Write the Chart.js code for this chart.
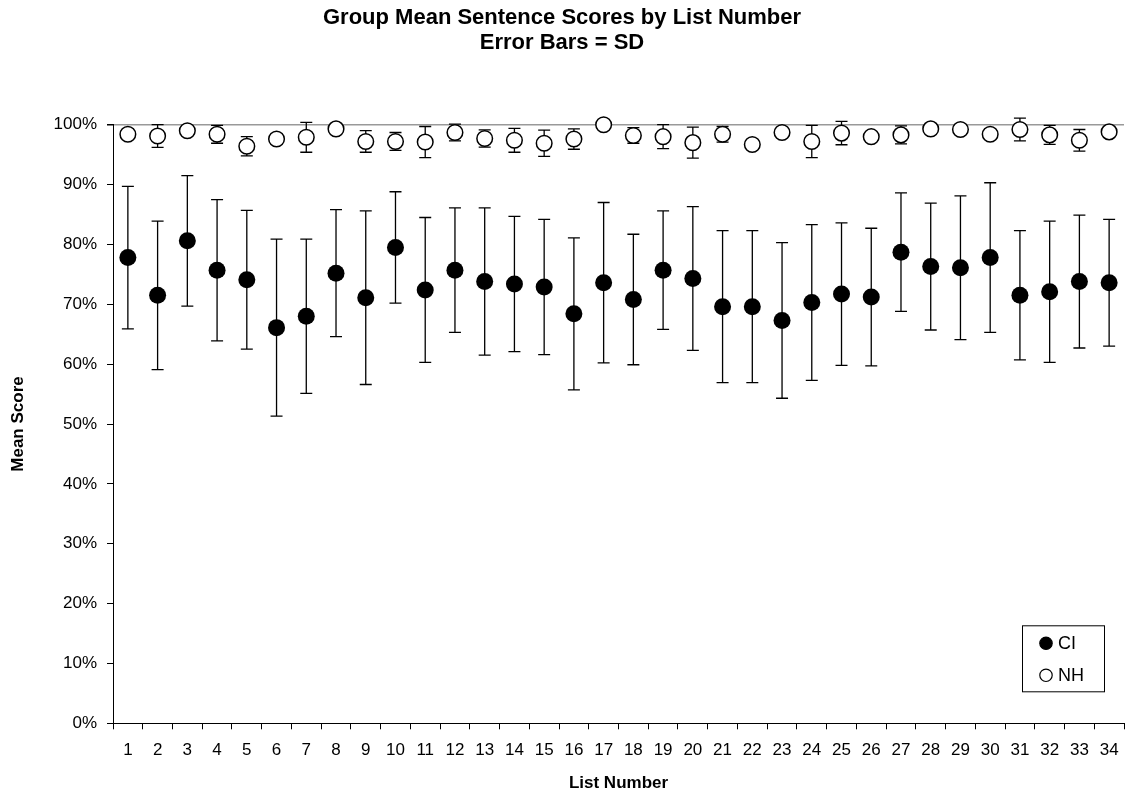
<!DOCTYPE html>
<html>
<head>
<meta charset="utf-8">
<title>Group Mean Sentence Scores by List Number</title>
<script src="https://cdn.jsdelivr.net/npm/chart.js@4.4.0/dist/chart.umd.min.js"></script>
<style>
  html, body { margin: 0; padding: 0; background: #fff; overflow: hidden; }
  #wrap { width: 1125px; height: 794px; }
  #scoreChart { display: block; }
</style>
</head>
<body>
<div id="wrap"><canvas id="scoreChart" width="1125" height="794"></canvas></div>
<script>
// list numbers on the x axis
const listNumbers = ['1','2','3','4','5','6','7','8','9','10','11','12','13','14','15','16','17',
                     '18','19','20','21','22','23','24','25','26','27','28','29','30','31','32','33','34'];

// CI group: mean score (%) and SD (%)
const ciMean = [77.8, 71.5, 80.6, 75.7, 74.1, 66.1, 68.0, 75.2, 71.1, 79.5, 72.4, 75.7, 73.8, 73.4, 72.9, 68.4, 73.6,
                70.8, 75.7, 74.3, 69.6, 69.6, 67.3, 70.3, 71.7, 71.2, 78.7, 76.3, 76.1, 77.8, 71.5, 72.1, 73.8, 73.6];
const ciSD   = [11.9, 12.4, 10.9, 11.8, 11.6, 14.8, 12.9, 10.6, 14.5, 9.3, 12.1, 10.4, 12.3, 11.3, 11.3, 12.7, 13.4,
                10.9, 9.9, 12.0, 12.7, 12.7, 13.0, 13.0, 11.9, 11.5, 9.9, 10.6, 12.0, 12.5, 10.8, 11.8, 11.1, 10.6];

// NH group: mean score (%) and SD (%)
const nhMean = [98.4, 98.1, 99.0, 98.4, 96.4, 97.6, 97.9, 99.3, 97.2, 97.2, 97.1, 98.7, 97.7, 97.4, 96.9, 97.6, 100.0,
                98.2, 98.0, 97.0, 98.4, 96.7, 98.7, 97.2, 98.6, 98.0, 98.3, 99.3, 99.2, 98.4, 99.2, 98.3, 97.4, 98.8];
const nhSD   = [0.8, 1.9, 0.5, 1.5, 1.6, 0.8, 2.5, 0.5, 1.8, 1.5, 2.6, 1.4, 1.45, 2.0, 2.2, 1.7, 0.0,
                1.3, 2.0, 2.6, 1.3, 0.5, 0.8, 2.7, 1.95, 0.8, 1.5, 0.5, 0.5, 0.8, 1.9, 1.6, 1.8, 0.5];

const FONT = 'Arial, "Liberation Sans", Helvetica, sans-serif';

// error bars, drawn under the markers
const errorBarPlugin = {
    id: 'errorBars',
    beforeDatasetsDraw(chart) {
        const ctx = chart.ctx;
        const yScale = chart.scales.y;
        ctx.save();
        ctx.strokeStyle = '#000';
        ctx.lineWidth = 1.3;
        chart.data.datasets.forEach((ds, i) => {
            if (!ds.errorBars) return;
            const meta = chart.getDatasetMeta(i);
            meta.data.forEach((pt, j) => {
                const sd = ds.errorBars[j];
                if (!sd) return;
                const yTop = yScale.getPixelForValue(ds.data[j] + sd);
                const yBot = yScale.getPixelForValue(ds.data[j] - sd);
                const capW = 6;
                ctx.beginPath();
                ctx.moveTo(pt.x, yTop);
                ctx.lineTo(pt.x, yBot);
                ctx.moveTo(pt.x - capW, yTop);
                ctx.lineTo(pt.x + capW, yTop);
                ctx.moveTo(pt.x - capW, yBot);
                ctx.lineTo(pt.x + capW, yBot);
                ctx.stroke();
            });
        });
        ctx.restore();
    }
};

// boxed legend in the lower right corner of the plot
const boxLegendPlugin = {
    id: 'boxLegend',
    afterDraw(chart) {
        const ctx = chart.ctx;
        const area = chart.chartArea;
        const w = 82, h = 66;
        const x0 = area.right - 20 - w;
        const y0 = area.bottom - 32 - h;
        ctx.save();
        ctx.fillStyle = '#fff';
        ctx.fillRect(x0, y0, w, h);
        ctx.strokeStyle = '#000';
        ctx.lineWidth = 1;
        ctx.strokeRect(x0 + 0.5, y0 + 0.5, w, h);
        ctx.font = '18px ' + FONT;
        ctx.textBaseline = 'middle';
        chart.data.datasets.forEach((ds, i) => {
            const cy = y0 + 18 + i * 32;
            const cx = x0 + 24;
            ctx.beginPath();
            ctx.arc(cx, cy, 6.2, 0, Math.PI * 2);
            ctx.fillStyle = ds.backgroundColor;
            ctx.fill();
            ctx.strokeStyle = '#000';
            ctx.lineWidth = 1.2;
            ctx.stroke();
            ctx.fillStyle = '#000';
            ctx.fillText(ds.label, cx + 12, cy + 1);
        });
        ctx.restore();
    }
};

new Chart(document.getElementById('scoreChart'), {
    type: 'line',
    data: {
        labels: listNumbers,
        datasets: [
            {
                label: 'CI',
                data: ciMean,
                errorBars: ciSD,
                showLine: false,
                pointStyle: 'circle',
                pointRadius: 8.5,
                pointBorderWidth: 0,
                backgroundColor: '#000',
                borderColor: '#000',
                clip: false
            },
            {
                label: 'NH',
                data: nhMean,
                errorBars: nhSD,
                showLine: false,
                pointStyle: 'circle',
                pointRadius: 7.8,
                pointBorderWidth: 1.5,
                backgroundColor: '#fff',
                borderColor: '#000',
                clip: false
            }
        ]
    },
    options: {
        responsive: false,
        animation: false,
        layout: { autoPadding: false, padding: { left: 0, right: 1, top: 0, bottom: 0 } },
        plugins: {
            legend: { display: false },
            tooltip: { enabled: false },
            title: {
                display: true,
                text: ['Group Mean Sentence Scores by List Number', 'Error Bars = SD'],
                color: '#000',
                font: { family: FONT, size: 22, weight: 'bold', lineHeight: 25 / 22 },
                padding: { top: 5.5, bottom: 69.2 }
            }
        },
        scales: {
            x: {
                type: 'category',
                offset: true,
                grid: {
                    offset: true,
                    drawOnChartArea: false,
                    tickLength: 6,
                    color: '#000',
                    tickColor: '#000'
                },
                border: { color: '#000', width: 1 },
                ticks: {
                    color: '#000',
                    font: { family: FONT, size: 17 },
                    padding: 10.5,
                    maxRotation: 0,
                    autoSkip: false
                },
                title: {
                    display: true,
                    text: 'List Number',
                    color: '#000',
                    font: { family: FONT, size: 17, weight: 'bold' },
                    padding: { top: 0, bottom: 0 }
                },
                afterFit(scale) {
                    scale.height = 70.7;
                    scale.paddingLeft = 0;
                    scale.paddingRight = 0;
                }
            },
            y: {
                min: 0,
                max: 100,
                grid: {
                    color: c => (c.tick && c.tick.value === 100) ? '#999' : 'rgba(0,0,0,0)',
                    lineWidth: c => (c.tick && c.tick.value === 100) ? 1.5 : 1,
                    tickColor: '#000',
                    tickLength: 6
                },
                border: { color: '#000', width: 1 },
                ticks: {
                    stepSize: 10,
                    color: '#000',
                    font: { family: FONT, size: 17 },
                    padding: 10,
                    callback: v => v + '%'
                },
                title: {
                    display: true,
                    text: 'Mean Score',
                    color: '#000',
                    font: { family: FONT, size: 17, weight: 'bold' },
                    padding: { top: 8, bottom: 0 }
                },
                afterFit(scale) {
                    scale.width = 113;
                    scale.paddingTop = 0;
                    scale.paddingBottom = 0;
                }
            }
        }
    },
    plugins: [errorBarPlugin, boxLegendPlugin]
});
</script>
</body>
</html>
